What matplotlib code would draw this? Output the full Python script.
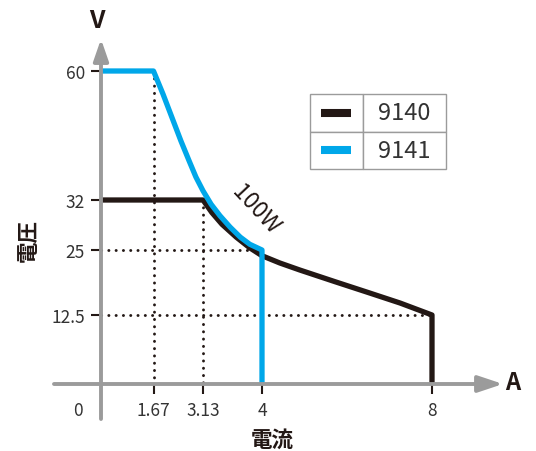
import numpy as np
import matplotlib
matplotlib.use('Agg')
import matplotlib.pyplot as plt

plt.rcParams['font.family'] = ['Noto Sans CJK JP', 'DejaVu Sans']

# --- data ---
models = ['9140', '9141']
colors = {'9140': '#231815', '9141': '#00a7e9'}

current_9140 = [0, 3.13, 3.26, 3.41, 3.62, 3.82, 4.0, 4.42, 4.89, 5.72, 6.47, 7.25, 8, 8]
voltage_9140 = [32, 32, 30.25, 28.6, 26.8, 25.3, 23.9, 22.5, 21.15, 18.9, 16.9, 14.8, 12.5, 0]

current_9141 = [0, 1.67, 1.95, 2.22, 2.48, 2.72, 2.92, 3.13, 3.25, 3.38, 3.53, 3.68, 3.82, 4, 4]
voltage_9141 = [60, 60, 55.0, 49.8, 44.8, 40.5, 37.0, 34.0, 31.4, 29.8, 28.2, 26.8, 25.8, 25, 0]

x_ticks = [1.67, 3.13, 4, 8]
x_tick_labels = ['1.67', '3.13', '4', '8']
y_ticks = [12.5, 25, 32, 60]
y_tick_labels = ['12.5', '25', '32', '60']

# dotted guide lines: (x0, y0, x1, y1)
guides = [(1.67, 60, 1.67, 0), (3.13, 32, 3.13, 0), (0, 25, 4, 25), (0, 12.5, 8, 12.5)]

# --- schematic (non linear) axis scales, positions in figure pixels ---
W, H = 536, 452
xd = [-10, 0, 1.67, 3.13, 4, 8, 20]
xp = [101 - 10 * 31.4, 101, 153.5, 203, 262, 432, 432 + 12 * 42.5]
yd = [-20, 0, 12.5, 25, 32, 60, 120]
yp = [67 - 20 * 5.4, 67, 136, 201, 251, 380, 380 + 60 * 4.6]


def fx(v):
    return np.interp(v, xd, xp)


def fx_inv(p):
    return np.interp(p, xp, xd)


def fy(v):
    return np.interp(v, yd, yp)


def fy_inv(p):
    return np.interp(p, yp, yd)


fig = plt.figure(figsize=(W / 100, H / 100), dpi=100)
ax = fig.add_axes([0, 0, 1, 1])
ax.set_xscale('function', functions=(fx, fx_inv))
ax.set_yscale('function', functions=(fy, fy_inv))
ax.set_xlim(fx_inv(0), fx_inv(W))
ax.set_ylim(fy_inv(0), fy_inv(H))
ax.patch.set_alpha(0)

gray = '#9b9b9b'
txt = '#333333'

# guides
for x0, y0, x1, y1 in guides:
    ax.plot([x0, x1], [y0, y1], color='#231815', lw=2.1,
            linestyle=(0, (0.05, 2.45)), dash_capstyle='round', zorder=2)

# curves
ax.plot(current_9140, voltage_9140, color=colors['9140'], lw=3.8,
        solid_joinstyle='round', solid_capstyle='butt', zorder=3)
ax.plot(current_9141, voltage_9141, color=colors['9141'], lw=3.8,
        solid_joinstyle='round', solid_capstyle='butt', zorder=4)

# axis lines with arrows
ax.annotate('', xy=(503 / W, 0), xycoords=('axes fraction', 'data'),
            xytext=(54 / W, 0), textcoords=('axes fraction', 'data'),
            arrowprops=dict(arrowstyle='-|>,head_length=15,head_width=5',
                            mutation_scale=1, color=gray, lw=2.8,
                            shrinkA=0, shrinkB=0), zorder=5)
ax.annotate('', xy=(0, 1 - 40 / H), xycoords=('data', 'axes fraction'),
            xytext=(0, 1 - 420 / H), textcoords=('data', 'axes fraction'),
            arrowprops=dict(arrowstyle='-|>,head_length=13,head_width=4.5',
                            mutation_scale=1, color=gray, lw=2.8,
                            shrinkA=0, shrinkB=0), zorder=5)

# ticks on invisible spines placed at zero
for side in ['top', 'right']:
    ax.spines[side].set_visible(False)
ax.spines['left'].set_position(('data', 0))
ax.spines['bottom'].set_position(('data', 0))
ax.spines['left'].set_color('none')
ax.spines['bottom'].set_color('none')
ax.set_xticks(x_ticks)
ax.set_xticklabels(x_tick_labels)
ax.set_yticks(y_ticks)
ax.set_yticklabels(y_tick_labels)
ax.minorticks_off()
ax.tick_params(axis='both', direction='out', length=7.5, width=1.5,
               color='#231815', labelcolor=txt, labelsize=12.5, pad=4)
ax.tick_params(axis='x', pad=5)
ax.annotate('0', xy=(0, 0), xytext=(-23, -26), textcoords='offset pixels',
            ha='center', va='center', fontsize=12.5, color=txt)

# 100W label
ax.text(3.90, 30.7, '100W', rotation=-47, ha='center', va='center',
        fontsize=16.5, color='#231815', rotation_mode='anchor')

# axis letters and titles
fig.text(97 / W, 1 - 21 / H, 'V', ha='center', va='center', fontsize=18,
         fontweight='bold', color='#231815')
fig.text(513 / W, 1 - 383 / H, 'A', ha='center', va='center', fontsize=17,
         fontweight='bold', color='#231815')
fig.text(272 / W, 1 - 440 / H, '電流', ha='center', va='center', fontsize=15.5,
         fontweight='bold', color='#231815')
fig.text(28 / W, 1 - 240 / H, '電圧', ha='center', va='center', fontsize=15.5,
         fontweight='bold', color='#231815', rotation=90)

# legend as a small table
lx0, lx1, lxm = 310, 446, 363
ly0, ly1 = 95, 170
tab = ax.table(cellText=[['', m] for m in models],
               colWidths=[(lxm - lx0) / W, (lx1 - lxm) / W],
               cellLoc='center',
               bbox=[lx0 / W, 1 - ly1 / H, (lx1 - lx0) / W, (ly1 - ly0) / H])
tab.auto_set_font_size(False)
for (r, c), cell in tab.get_celld().items():
    cell.set_edgecolor(gray)
    cell.set_linewidth(1.0)
    cell.get_text().set_fontsize(17)
    cell.get_text().set_color(txt)
row_h = (ly1 - ly0) / len(models)
for k, m in enumerate(models):
    yc = 1 - (ly0 + row_h * (k + 0.5)) / H
    ax.plot([321 / W, 351 / W], [yc, yc], transform=ax.transAxes,
            color=colors[m], lw=5.8, solid_capstyle='butt', zorder=6)

fig.savefig('out.png', dpi=100)
